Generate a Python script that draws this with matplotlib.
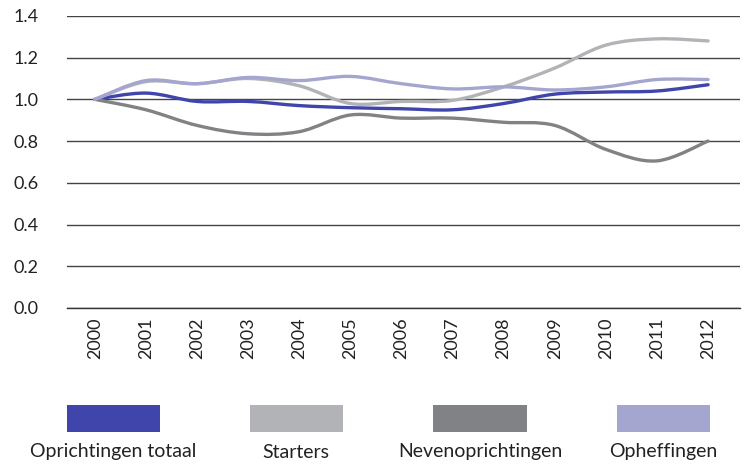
import matplotlib.pyplot as plt
import numpy as np
from matplotlib.path import Path
from matplotlib.patches import PathPatch, Rectangle

plt.rcParams['font.family'] = ['Lato', 'DejaVu Sans']

# Data
years = list(range(2000, 2013))
oprichtingen = [1.00, 1.03, 0.99, 0.99, 0.97, 0.96, 0.955, 0.95, 0.98, 1.025, 1.035, 1.04, 1.07]
starters = [1.00, 1.085, 1.075, 1.10, 1.065, 0.98, 0.99, 0.995, 1.06, 1.15, 1.26, 1.29, 1.28]
neven = [1.00, 0.95, 0.875, 0.835, 0.845, 0.925, 0.91, 0.91, 0.89, 0.875, 0.76, 0.705, 0.80]
opheffingen = [1.00, 1.09, 1.075, 1.105, 1.09, 1.11, 1.075, 1.05, 1.06, 1.045, 1.06, 1.095, 1.095]

labels = ['Oprichtingen totaal', 'Starters', 'Nevenoprichtingen', 'Opheffingen']
series = [oprichtingen, starters, neven, opheffingen]
colors = ['#3F45AA', '#B1B3B6', '#818285', '#A5A6CF']


def smooth_path(x, y):
    # Catmull-Rom style bezier, like Excel's smoothed lines
    x = np.asarray(x, float)
    y = np.asarray(y, float)
    verts = [(x[0], y[0])]
    codes = [Path.MOVETO]
    n = len(x)
    for i in range(n - 1):
        p0 = (x[i - 1], y[i - 1]) if i > 0 else (x[i], y[i])
        p1 = (x[i], y[i])
        p2 = (x[i + 1], y[i + 1])
        p3 = (x[i + 2], y[i + 2]) if i + 2 < n else (x[i + 1], y[i + 1])
        c1 = (p1[0] + (p2[0] - p0[0]) / 6, p1[1] + (p2[1] - p0[1]) / 6)
        c2 = (p2[0] - (p3[0] - p1[0]) / 6, p2[1] - (p3[1] - p1[1]) / 6)
        verts += [c1, c2, p2]
        codes += [Path.CURVE4] * 3
    return Path(verts, codes)


fig = plt.figure(figsize=(7.5, 4.68), dpi=100)
ax = fig.add_axes([0.089, 0.342, 0.898, 0.624])

for vals, col in zip(series, colors):
    patch = PathPatch(smooth_path(years, vals), facecolor='none', edgecolor=col,
                      linewidth=2.4, capstyle='round', joinstyle='round', zorder=3)
    ax.add_patch(patch)

ax.set_xlim(1999.45, 2012.63)
ax.set_ylim(0, 1.4)
ax.set_yticks(np.arange(0, 1.41, 0.2))
ax.set_yticklabels([f'{v:.1f}' for v in np.arange(0, 1.41, 0.2)], fontsize=13, color='#222222')
ax.set_xticks(years)
ax.set_xticklabels([str(y) for y in years], rotation=90, fontsize=13, color='#222222')
ax.tick_params(length=0, pad=7)
ax.tick_params(axis='y', pad=20)
ax.grid(True, axis='y', color='#444444', linewidth=1.0, zorder=1)
for s in ['top', 'right', 'left']:
    ax.spines[s].set_visible(False)
ax.spines['bottom'].set_color('#333333')
ax.spines['bottom'].set_linewidth(1.0)

# Legend: colour blocks with labels underneath
centers = [113, 296, 480, 663]
for cx, lab, col in zip(centers, labels, colors):
    fig.add_artist(Rectangle(((cx - 46.5) / 750, 1 - 432 / 468), 93 / 750, 27 / 468,
                             transform=fig.transFigure, facecolor=col, edgecolor='none'))
    fig.text(cx / 750, 1 - 452 / 468, lab, ha='center', va='center', fontsize=14,
             color='#222222')

fig.savefig('out.png', dpi=100)
